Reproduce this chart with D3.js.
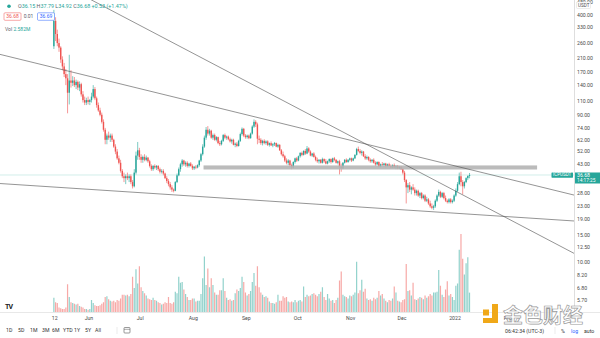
<!DOCTYPE html>
<html><head><meta charset="utf-8">
<script src="https://cdn.jsdelivr.net/npm/d3@7"></script>
<style>html,body{margin:0;padding:0;background:#fff;overflow:hidden}svg{display:block;font-family:Roboto,"Liberation Sans",sans-serif}</style>
</head><body><svg id="c" width="600" height="338"></svg>
<script>
// ---------- DATA ----------
const symbol = "ICPUSDT";
const startDate = "2021-05-11"; // first daily candle
const opens = [
250,365,300,262,245,205,185,165,155,125,
150,145,150,140,147,135,142,122,112,108,
112,109,112,118,132,115,104,96,90,81,
72,62,66,64,66,62,56,52,47,44,
39,36,35,36,35,36,33,31,38,49,
53,48,46,48,46,47.5,45,42,40,42,
41,42,40,38.5,39,37.5,35,33.5,32,30.5,
29.5,29,33,36.5,40,43,45.5,43,44,42,
43.5,42,40.5,41.5,41,42.5,45.5,50,56,64,
72,68,71,64,66.5,62,64.5,59,58,61,
66.5,64,65,62.5,60.5,62,57.5,58.5,56.5,61,
67.5,73,66,64.5,66,63.5,68,75.5,81,78,
63,62,59,61,59,60.5,57.5,59,57,58,
59,56,57.5,53,50,48.5,45.5,44,45.5,42.5,
41,44.5,47,45.5,48.5,51,49.5,52.5,50.5,54.5,
52,49,50.5,48,46,45,46,44,46.5,45,
43.5,45,46.5,44.5,47,46,44,45,41.5,40.5,
44,46,44.5,46,47,45.5,47,49.5,54,52.5,
51,52,48.5,47,48,46,45,46,44,43,
44.5,41.5,43,42.5,43.5,42,43,42,41,42.5,
41,42,40.5,41.5,40,38,34,30.5,31.5,29.5,
30.5,29.5,28,29,27,28,26,27,25,25.5,
24,23,22.5,23,25,27,28.5,26.5,28,26,
25,24.5,25.5,24.5,25,27,29,32,36,33,
31,33,35,36.15];
const highs = [
430,385,320,280,250,215,195,178,165,220,
175,160,158,152,150,148,145,128,118,116,
118,114,125,140,136,118,108,100,93,84,
74,68,70,68,68,63,58,54,49,46,
40,38,37,38,37,37,34,40,52,60,
55,50,49,50,49,48,46,43,42.5,43,
42.5,42.5,41,40,40,38,36,34.5,33,31.5,
30,33.5,37.5,41,44,46.5,46,45,45,44,
44.5,43,42,42.5,43,46,51,58,66,75,
76,73,72,68,68,65.5,65,61,62,67.5,
68,66,66,64,63,63,59.5,60,62,69,
74.5,74,67.5,67,67,69,77,84,83,80,
66,63.5,62,62.5,61.5,61.5,59.5,60.5,59,60,
59.5,58.5,58,54,52,49.5,47,46.5,46,43.5,
45,47.5,48,49,51.5,52,53,54,56.5,55.5,
53,51,51.5,49,47.5,46.5,46.5,47.5,47,46.5,
45.5,47,47,47.5,48,46.5,45.5,46,43.5,44.5,
46.5,47,46.5,47.5,47.5,47.5,50,55,56,54,
53,52.5,50,49,48.5,47,46.5,47,45,45,
45,43.5,44.5,44,44,43.5,44,43,43,43.5,
42.5,42.5,42,42,41,39,34.5,32.5,33,31,
32,30.5,29.5,29.5,28.5,28.5,27.5,27.5,26.5,26,
25,24,23.5,25.5,27.5,29.5,29,28.5,28.5,27,
25.5,26,26,25.5,27.5,30,33,38,38.5,34,
33.5,35.5,36.5,37.79];
const lows = [
240,270,250,230,195,175,158,140,92,105,
135,138,136,132,130,128,118,108,104,104,
105,104,108,115,112,100,94,88,79,70,
58,58,62,60,60,55,50,46,43,38,
35,33,32,34,33,32,30,30.5,37,46,
46,44,44,45,45,44,41,39,39,40,
39.5,39,37.5,37.5,36.5,34.5,32.5,31,29.5,28.5,
28.3,28.8,32.5,36,38.5,41.5,42,41.5,41,41,
41.5,39.5,39.5,40,40.5,41.5,44.5,49,55,62,
66,66,63,62,61,60.5,58,56.5,57,60,
62.5,62,61.5,59.5,58.5,57,55.5,55.5,56,60,
66,64.5,63,63,62.5,63,67,74,75,58,
59,57.5,57,58,57.5,56.5,56,56.5,55.5,56.5,
55.5,55,52.5,49,47.5,44.5,43,42.5,41.5,40,
40.5,43.5,44.5,45,47.5,48.5,49,49.5,50,51,
48.5,48,47.5,45,44,43.5,43.5,43.5,44,43,
43,44,43.5,44,45,43.5,43,37,38.5,40,
43.5,44,44,45,44.5,45,46.5,49,51.5,50,
49,48,46,46,45,44,44,43.5,42,42.5,
41,41,42,41.5,41,41.5,41.5,40.5,40.5,40.5,
40,40,40,39.5,37,33,24,28,28.5,27.5,
29,27,27,26.5,26,25.5,25.5,24.5,24.5,23.5,
22.5,22,21.8,22.5,24.5,26.5,26,26,25.5,24.5,
24,24,24,24,24.5,26.5,28.5,31.5,31,27.5,
30,32.5,34,34.92];
const closes = [
365,300,262,245,205,185,165,155,125,150,
145,150,140,147,135,142,122,112,108,112,
109,112,118,132,115,104,96,90,81,72,
62,66,64,66,62,56,52,47,44,39,
36,35,36,35,36,33,31,38,49,53,
48,46,48,46,47.5,45,42,40,42,41,
42,40,38.5,39,37.5,35,33.5,32,30.5,29.5,
29,33,36.5,40,43,45.5,43,44,42,43.5,
42,40.5,41.5,41,42.5,45.5,50,56,64,72,
68,71,64,66.5,62,64.5,59,58,61,66.5,
64,65,62.5,60.5,62,57.5,58.5,56.5,61,67.5,
73,66,64.5,66,63.5,68,75.5,81,78,63,
62,59,61,59,60.5,57.5,59,57,58,59,
56,57.5,53,50,48.5,45.5,44,45.5,42.5,41,
44.5,47,45.5,48.5,51,49.5,52.5,50.5,54.5,52,
49,50.5,48,46,45,46,44,46.5,45,43.5,
45,46.5,44.5,47,46,44,45,41.5,40.5,44,
46,44.5,46,47,45.5,47,49.5,54,52.5,51,
52,48.5,47,48,46,45,46,44,43,44.5,
41.5,43,42.5,43.5,42,43,42,41,42.5,41,
42,40.5,41.5,40,38,34,30.5,31.5,29.5,30.5,
29.5,28,29,27,28,26,27,25,25.5,24,
23,22.5,23,25,27,28.5,26.5,28,26,25,
24.5,25.5,24.5,25,27,29,32,36,33,31,
33,35,36.15,36.68];
const volumes = [ // millions
1.9,1.3,1.2,0.6,0.5,0.4,0.4,0.6,3.7,2.0,
1.3,1.2,1.1,1.0,1.1,0.8,0.7,0.6,0.4,0.4,
0.3,0.4,1.6,1.2,0.9,0.8,0.8,0.9,1.1,1.3,
2.0,2.1,1.7,1.5,1.4,1.5,1.3,1.6,1.5,1.8,
2.3,2.3,2.2,2.3,2.1,2.4,4.7,3.2,5.7,3.8,
6.1,3.3,2.8,2.5,2.2,1.8,1.7,1.6,1.9,1.6,
1.5,1.3,1.2,1.0,1.1,1.3,1.2,2.0,1.2,1.1,
1.3,2.7,2.5,4.7,3.9,4.0,3.0,2.4,2.0,1.6,
1.6,1.8,1.8,1.4,1.5,1.5,2.4,4.5,7.4,3.6,
5.8,3.3,4.5,3.6,2.6,2.3,2.3,2.9,2.9,4.5,
2.8,1.9,1.6,1.7,1.5,1.6,2.5,3.0,2.8,3.2,
4.7,4.0,2.6,2.2,2.4,2.8,4.0,5.2,3.5,6.1,
3.3,2.6,2.3,2.0,2.1,1.9,1.4,1.2,1.2,1.1,
1.3,2.3,1.5,1.5,2.1,1.9,2.0,1.4,1.3,1.4,
1.3,1.6,1.3,1.5,1.6,1.4,3.4,2.0,2.3,2.1,
2.2,2.4,2.5,2.3,2.1,2.4,2.7,3.3,2.0,1.6,
2.4,1.8,1.5,1.6,1.2,1.6,1.9,4.2,5.4,2.3,
2.1,2.0,1.8,2.2,2.1,2.3,2.6,6.7,2.5,2.9,
4.3,2.7,3.1,1.8,1.6,1.7,1.5,1.9,1.7,1.9,
2.8,2.2,2.4,1.8,1.5,1.3,1.6,1.5,1.8,3.4,
2.6,1.5,1.4,1.3,1.6,1.7,6.4,2.8,2.9,2.2,
3.9,1.7,1.6,1.8,2.0,1.9,1.7,2.2,1.9,2.1,
2.4,2.2,2.6,2.6,2.7,5.6,3.5,2.3,2.0,3.0,
4.1,2.2,2.4,2.0,1.6,3.5,3.8,8.3,10.4,7.1,
5.0,6.5,7.3,2.582];
const priceTicks = [480,400,330,260,210,170,140,110,90,74,62,52,43,28,23,19,15,12.5,10,8.2,6.8,5.7];
const timeTickDates = ["2021-05-12","2021-06-01","2021-07-01","2021-08-01","2021-09-01","2021-10-01","2021-11-01","2021-12-01","2022-01-01","2022-02-01"];
const timeTickLabels = ["12","Jun","Jul","Aug","Sep","Oct","Nov","Dec","2022","Feb"];
// drawings: [date, price] anchor pairs
const trendLines = [
  [["2021-06-07",469],["2022-03-11",11.5]],
  [["2021-04-10",221.4],["2022-03-11",27.3]],
  [["2021-04-10",32.3],["2022-03-11",18.5]]
];
const zoneDates = ["2021-08-07","2022-02-18"];
const zonePrices = [39.8,42.3];
const bid = 36.68, ask = 36.69, spread = "0.01";
const lastTime = "14:17:25";
const clockText = "06:42:34 (UTC-3)";
const ranges = ["1D","5D","1M","3M","6M","YTD","1Y","5Y","All"];

// ---------- CHART ----------
const UP="#26a69a", DN="#ef5350";
const svg=d3.select("#c");
const PR=574, PB=312;
const x=d3.scaleUtc().domain([new Date(Date.UTC(2021,3,10)),new Date(Date.UTC(2022,2,11))]).range([0,573]);
const y=d3.scaleLog().domain([400,5.7]).range([14.7,299.9]);
const yv=d3.scaleLinear().domain([0,10.4]).range([PB,234]);
const pd=s=>new Date(s+"T00:00:00Z");
const start=new Date(startDate+"T12:00:00Z");
const data=closes.map((c,i)=>({d:d3.utcDay.offset(start,i),o:opens[i],h:highs[i],l:lows[i],c:c,v:volumes[i]}));

svg.append("rect").attr("width",600).attr("height",338).attr("fill","#fff");
svg.append("defs").append("clipPath").attr("id","pc").append("rect").attr("x",0).attr("y",0).attr("width",PR).attr("height",PB);
const g=svg.append("g").attr("clip-path","url(#pc)");

// volume
g.append("g").selectAll("rect").data(data).join("rect")
  .attr("x",d=>x(d.d)-0.6).attr("width",1.2)
  .attr("y",d=>yv(d.v)).attr("height",d=>PB-yv(d.v))
  .attr("fill",d=>d.c>=d.o?UP:DN).attr("fill-opacity",0.5);

// last price line
const lp=closes[closes.length-1];
g.append("line").attr("x1",0).attr("x2",PR).attr("y1",y(lp)).attr("y2",y(lp))
  .attr("stroke",UP).attr("stroke-opacity",0.35).attr("stroke-width",0.6);

// candles
const cg=g.append("g");
cg.selectAll("line").data(data).join("line")
  .attr("x1",d=>x(d.d)).attr("x2",d=>x(d.d)).attr("y1",d=>y(d.h)).attr("y2",d=>y(d.l))
  .attr("stroke",d=>d.c>=d.o?UP:DN).attr("stroke-width",0.6);
cg.selectAll("rect").data(data).join("rect")
  .attr("x",d=>x(d.d)-0.7).attr("width",1.4)
  .attr("y",d=>y(Math.max(d.o,d.c))).attr("height",d=>Math.max(0.6,Math.abs(y(d.o)-y(d.c))))
  .attr("fill",d=>d.c>=d.o?UP:DN);

// zone
g.append("rect").attr("x",x(pd(zoneDates[0]))).attr("width",x(pd(zoneDates[1]))-x(pd(zoneDates[0])))
  .attr("y",y(zonePrices[1])).attr("height",y(zonePrices[0])-y(zonePrices[1]))
  .attr("fill","#b4b4b4").attr("fill-opacity",0.9);

// trend lines (extended)
trendLines.forEach(l=>{
  const x1=x(pd(l[0][0])),y1=y(l[0][1]),x2=x(pd(l[1][0])),y2=y(l[1][1]);
  const s=(y2-y1)/(x2-x1);
  g.append("line").attr("x1",-20).attr("y1",y1+s*(-20-x1)).attr("x2",620).attr("y2",y1+s*(620-x1))
   .attr("stroke","#4d4d4d").attr("stroke-width",0.6);
});

// frame lines
svg.append("line").attr("x1",PR+0.5).attr("x2",PR+0.5).attr("y1",0).attr("y2",PB).attr("stroke","#d6d6d6").attr("stroke-width",0.8);
svg.append("line").attr("x1",0).attr("x2",600).attr("y1",PB+0.5).attr("y2",PB+0.5).attr("stroke","#e2e2e2").attr("stroke-width",0.8);

// price axis
const FS=5.2, TXT="#4a4a4a";
svg.append("g").selectAll("text").data(priceTicks).join("text")
  .attr("x",577).attr("y",d=>y(d)+1.8).attr("font-size",FS).attr("fill",TXT)
  .text(d=>d3.format(".2f")(d));
svg.append("rect").attr("x",576.5).attr("y",2).attr("width",14).attr("height",6.5).attr("fill","#fff").attr("stroke","#cfcfcf").attr("stroke-width",0.4).attr("rx",1);
svg.append("text").attr("x",578).attr("y",7).attr("font-size",4.6).attr("fill",TXT).text("USDT");

// last price labels
svg.append("rect").attr("x",551.5).attr("y",y(lp)-2.5).attr("width",21.5).attr("height",5.2).attr("fill",UP).attr("rx",0.6);
svg.append("text").attr("x",562.2).attr("y",y(lp)+1.5).attr("text-anchor","middle").attr("font-size",4.5).attr("fill","#fff").text(symbol);
svg.append("rect").attr("x",575).attr("y",y(lp)-2.5).attr("width",25).attr("height",11).attr("fill",UP);
svg.append("text").attr("x",577).attr("y",y(lp)+1.7).attr("font-size",FS).attr("fill","#fff").text(d3.format(".2f")(lp));
svg.append("text").attr("x",577).attr("y",y(lp)+7).attr("font-size",4.8).attr("fill","#fff").text(lastTime);

// time axis
svg.append("g").selectAll("text").data(timeTickDates).join("text")
  .attr("x",d=>x(pd(d))).attr("y",319.5).attr("text-anchor","middle").attr("font-size",FS).attr("fill",TXT)
  .text((d,i)=>timeTickLabels[i]);

// legend
const last=data[data.length-1];
const lg=svg.append("text").attr("x",18).attr("y",8).attr("font-size",5.4).attr("fill","#5d606b");
const chg=last.c-last.o;
[["O",last.o],["H",last.h],["L",last.l],["C",last.c]].forEach(p=>{
  lg.append("tspan").text(p[0]);
  lg.append("tspan").attr("fill",UP).text(d3.format(".2f")(p[1])+" ");
});
lg.append("tspan").attr("fill",UP).text("+"+d3.format(".2f")(chg)+" (+"+d3.format(".2f")(chg/last.o*100)+"%)");
svg.append("circle").attr("cx",9).attr("cy",6.3).attr("r",1.8).attr("fill",UP);
svg.append("rect").attr("x",4).attr("y",12.8).attr("width",17).attr("height",7.5).attr("fill","#fff").attr("stroke",DN).attr("stroke-width",0.5).attr("rx",1);
svg.append("text").attr("x",12.5).attr("y",18.3).attr("text-anchor","middle").attr("font-size",5).attr("fill",DN).text(d3.format(".2f")(bid));
svg.append("text").attr("x",28.5).attr("y",18.3).attr("text-anchor","middle").attr("font-size",5).attr("fill","#5d606b").text(spread);
svg.append("rect").attr("x",37.5).attr("y",12.8).attr("width",17).attr("height",7.5).attr("fill","#fff").attr("stroke","#2962ff").attr("stroke-width",0.5).attr("rx",1);
svg.append("text").attr("x",46).attr("y",18.3).attr("text-anchor","middle").attr("font-size",5).attr("fill","#2962ff").text(d3.format(".2f")(ask));
const vl=svg.append("text").attr("x",5).attr("y",30.5).attr("font-size",5).attr("fill","#5d606b");
vl.append("tspan").text("Vol ");
vl.append("tspan").attr("fill",UP).text(d3.format(".3f")(last.v)+"M");

// TV logo
svg.append("text").attr("x",5).attr("y",308.5).attr("font-size",7).attr("font-weight","bold").attr("fill","#222").attr("letter-spacing",-0.8).text("TV");

// bottom toolbar
const rx=[6,18,30,42,52,63,74,85,95];
svg.append("g").selectAll("text").data(ranges).join("text")
  .attr("x",(d,i)=>rx[i]).attr("y",332).attr("font-size",5.2).attr("fill","#333").text(d=>d);
svg.append("line").attr("x1",117).attr("x2",117).attr("y1",327).attr("y2",334).attr("stroke","#ddd").attr("stroke-width",0.6);
svg.append("rect").attr("x",124).attr("y",327.5).attr("width",6).attr("height",5.5).attr("fill","none").attr("stroke","#555").attr("stroke-width",0.6).attr("rx",0.8);
svg.append("line").attr("x1",124).attr("x2",130).attr("y1",329.3).attr("y2",329.3).attr("stroke","#555").attr("stroke-width",0.5);
svg.append("text").attr("x",505).attr("y",332.5).attr("font-size",5.2).attr("fill","#333").text(clockText);
svg.append("line").attr("x1",555).attr("x2",555).attr("y1",327).attr("y2",334).attr("stroke","#ddd").attr("stroke-width",0.6);
svg.append("text").attr("x",561).attr("y",332.5).attr("font-size",5.2).attr("fill","#333").text("%");
svg.append("text").attr("x",571).attr("y",332.5).attr("font-size",5.2).attr("fill","#2962ff").text("log");
svg.append("text").attr("x",584).attr("y",332.5).attr("font-size",5.2).attr("fill","#333").text("auto");

// watermark
const wm=svg.append("g");
wm.append("rect").attr("x",483).attr("y",309.5).attr("width",6).attr("height",6).attr("fill","#f0a818");
wm.append("path").attr("d","M492,304 h6 v19 h-15 v-5 h9 z").attr("fill","#f0a818");
wm.append("text").attr("x",503).attr("y",322.5).attr("font-size",20)
  .attr("font-family","'Noto Sans CJK SC',sans-serif").attr("font-weight","bold")
  .attr("fill","#fff").attr("fill-opacity",0.85).attr("stroke","#9a9a9a").attr("stroke-width",0.7).text("金色财经");
</script></body></html>
